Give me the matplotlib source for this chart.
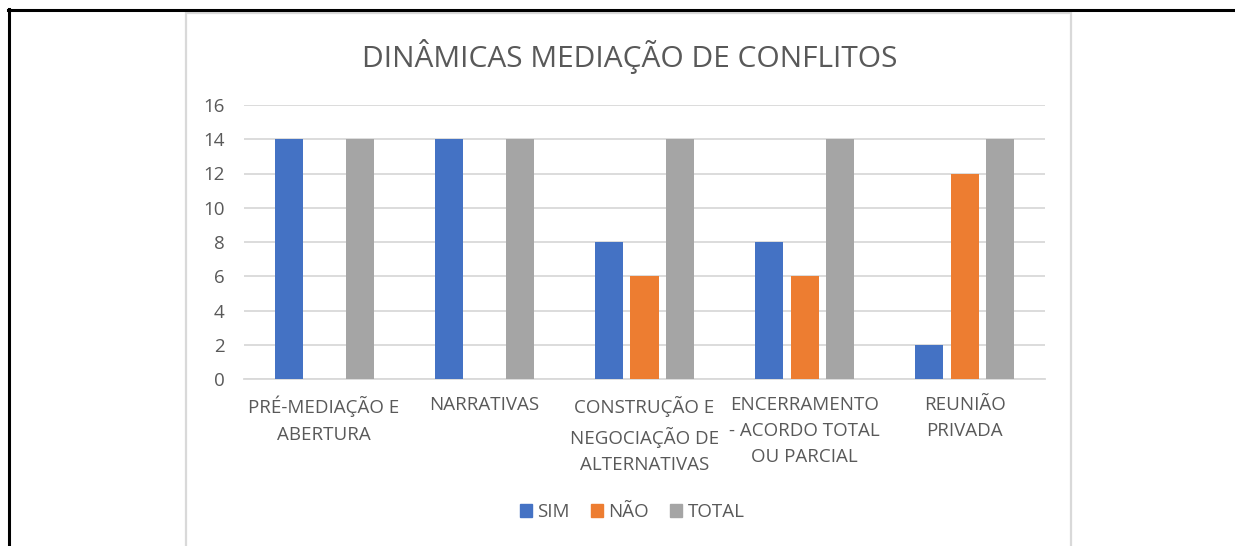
import matplotlib.pyplot as plt
from matplotlib.patches import Rectangle
from matplotlib.lines import Line2D
import numpy as np

categories = [
    "PRÉ-MEDIAÇÃO E\nABERTURA",
    "NARRATIVAS",
    "CONSTRUÇÃO E\nNEGOCIAÇÃO DE\nALTERNATIVAS",
    "ENCERRAMENTO\n- ACORDO TOTAL\nOU PARCIAL",
    "REUNIÃO\nPRIVADA",
]
sim = [14, 14, 8, 8, 2]
nao = [0, 0, 6, 6, 12]
total = [14, 14, 14, 14, 14]
series_names = ["SIM", "NÃO", "TOTAL"]
colors = ["#4472C4", "#ED7D31", "#A5A5A5"]

plt.rcParams["font.family"] = ["Open Sans", "DejaVu Sans"]
TXT = "#595959"
GRID = "#D9D9D9"

fig = plt.figure(figsize=(12.35, 5.46), dpi=100)

# outer black frame (top and left edges visible)
fig.add_artist(Line2D([8 / 1235, 1], [1 - 10 / 546] * 2, color="black", lw=2.2,
                      transform=fig.transFigure))
fig.add_artist(Line2D([9 / 1235] * 2, [0, 1 - 9 / 546], color="black", lw=2.2,
                      transform=fig.transFigure))
# chart area box
fig.add_artist(Rectangle((186 / 1235, -0.02), (1071 - 186) / 1235, 0.02 + 1 - 13 / 546,
                         fill=False, edgecolor=GRID, lw=1.6, transform=fig.transFigure))

ax = fig.add_axes([244 / 1235, 1 - 379 / 546, (1045 - 244) / 1235, (379 - 105) / 546])
x = np.arange(len(categories))
w = 0.175
off = 0.222
for i, (vals, name, c) in enumerate(zip([sim, nao, total], series_names, colors)):
    ax.bar(x + (i - 1) * off, vals, width=w, color=c, label=name, zorder=3)

ax.set_xlim(-0.5, len(categories) - 0.5)
ax.set_ylim(0, 16)
ax.set_yticks(range(0, 17, 2))
ax.grid(axis="y", color=GRID, lw=1.3, zorder=0)
for s in ["top", "right", "left"]:
    ax.spines[s].set_visible(False)
ax.spines["bottom"].set_color(GRID)
ax.spines["bottom"].set_linewidth(1.3)
ax.tick_params(axis="both", length=0, labelsize=13.5, labelcolor=TXT)
ax.tick_params(axis="y", pad=14)
ax.tick_params(axis="x", pad=12)
ax.set_xticks(x)
ax.set_xticklabels(categories, linespacing=1.6)

fig.text(0.5097, 1 - 56 / 546, "DINÂMICAS MEDIAÇÃO DE CONFLITOS", ha="center", va="center",
         fontsize=21.5, color=TXT)

handles = [Rectangle((0, 0), 1, 1, color=c) for c in colors]
fig.legend(handles, series_names, loc="center", bbox_to_anchor=(632 / 1235, 1 - 512 / 546),
           ncol=3, frameon=False, fontsize=13.5, labelcolor=TXT, handlelength=0.65,
           handleheight=0.65, handletextpad=0.3, columnspacing=1.1)

fig.savefig("out.png", dpi=100)
